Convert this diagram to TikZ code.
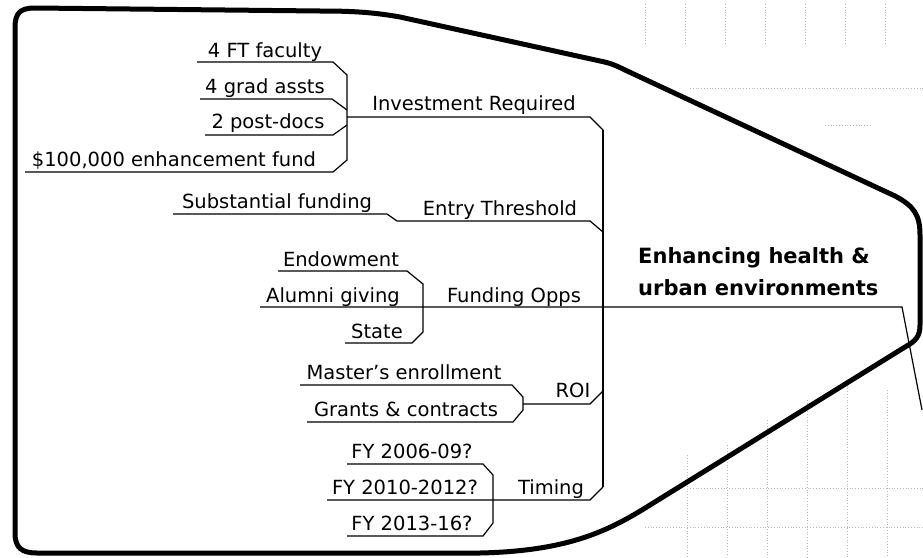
\documentclass[tikz,border=0pt]{standalone}
\usepackage{fontspec}
\setmainfont{DejaVu Sans}
\begin{document}
\begin{tikzpicture}[x=1pt,y=-1pt]
\tikzset{
  lbl/.style={anchor=base, inner sep=0pt, font=\fontsize{19.5}{23}\selectfont},
  ttl/.style={anchor=base west, inner sep=0pt, font=\fontsize{21}{25}\selectfont\bfseries},
  link/.style={line width=1.2pt, line join=miter},
  border/.style={line width=5pt, line join=round},
  specks/.style={gray!55, dotted, line width=0.8pt},
}
\useasboundingbox (0,0) rectangle (923,557);
\fill[white] (0,0) rectangle (923,557);

% faint dotted scan marks outside the outline
\foreach \x in {645,685,725,765,805,845,885} \draw[specks] (\x,4) -- (\x,44);
\draw[specks] (690,88) -- (923,88);
\draw[specks] (825,125) -- (870,125);
\foreach \x/\y in {687/455,727/445,767/420,807/400,847/380,887/390} \draw[specks] (\x,\y) -- (\x,557);
\draw[specks] (690,488) -- (923,488);
\draw[specks] (645,527) -- (923,527);

% outline
\draw[border] (15,533) -- (15,28) .. controls (15,13) and (20,8) .. (35,8)
  -- (320,11) .. controls (350,11) and (372,12) .. (400,17)
  -- (600,61) .. controls (610,63) and (615,65) .. (625,70)
  -- (895,196) .. controls (914,206) and (920,215) .. (920,235)
  -- (920,325) .. controls (920,336) and (916,341) .. (905,347)
  -- (650,505) .. controls (610,530) and (570,551) .. (480,553)
  -- (37,553) .. controls (22,553) and (15,548) .. (15,533) -- cycle;

% labels
\node[lbl] (ft) at (265,57) {4 FT faculty};
\node[lbl] (ga) at (265,93) {4 grad assts};
\node[lbl] (pd) at (268,128) {2 post-docs};
\node[lbl] (ef) at (174,166) {\$100,000 enhancement fund};
\node[lbl] (ir) at (474,110) {Investment Required};
\node[lbl] (sf) at (277,208) {Substantial funding};
\node[lbl] (et) at (500,215) {Entry Threshold};
\node[lbl] (en) at (341,266) {Endowment};
\node[lbl] (ag) at (333,302) {Alumni giving};
\node[lbl] (st) at (377,338) {State};
\node[lbl] (fo) at (514,302) {Funding Opps};
\node[lbl] (me) at (404,379) {Master’s enrollment};
\node[lbl] (gc) at (406,416) {Grants \& contracts};
\node[lbl] (roi) at (573,397) {ROI};
\node[lbl] (f1) at (412,458) {FY 2006-09?};
\node[lbl] (f2) at (405,494) {FY 2010-2012?};
\node[lbl] (f3) at (412,530) {FY 2013-16?};
\node[lbl] (tm) at (551,494) {Timing};
\node[ttl] (t1) at (638,263) {Enhancing health \&};
\node[ttl] (t2) at (638,295) {urban environments};

% joints
\coordinate (invB) at (347,117);
\coordinate (invT) at (603,130);
\coordinate (entT) at (603,232);
\coordinate (funB) at (423,307);
\coordinate (roiB) at (523,404);
\coordinate (roiT) at (603,391);
\coordinate (timB) at (493,500);
\coordinate (timT) at (603,487);
\coordinate (cen) at (902,307);
\coordinate (off) at (922,410);

% Investment Required branch
\draw[link] (197,62) -- (333,62) -- (347,75) -- (347,160) -- (333,172) -- (25,172);
\draw[link] (200,99) -- (332,99) -- (347,110);
\draw[link] (205,135) -- (333,135) -- (347,125);
\draw[link] (invB) -- (590,117) -- (invT);
% trunk
\draw[link] (invT) -- (timT);
% Entry Threshold branch
\draw[link] (173,214) -- (387,214) -- (397,221) -- (590,221) -- (entT);
% Funding Opps branch and centre
\draw[link] (278,271) -- (407,271) -- (423,284) -- (423,332) -- (412,343) -- (345,343);
\draw[link] (260,307) -- (funB) -- (cen) -- (off);
% ROI branch
\draw[link] (300,385) -- (512,385) -- (523,397) -- (523,410) -- (513,422) -- (307,422);
\draw[link] (roiB) -- (590,404) -- (roiT);
% Timing branch
\draw[link] (347,464) -- (483,464) -- (493,475) -- (493,523) -- (483,536) -- (347,536);
\draw[link] (327,500) -- (timB) -- (590,500) -- (timT);
\end{tikzpicture}
\end{document}
